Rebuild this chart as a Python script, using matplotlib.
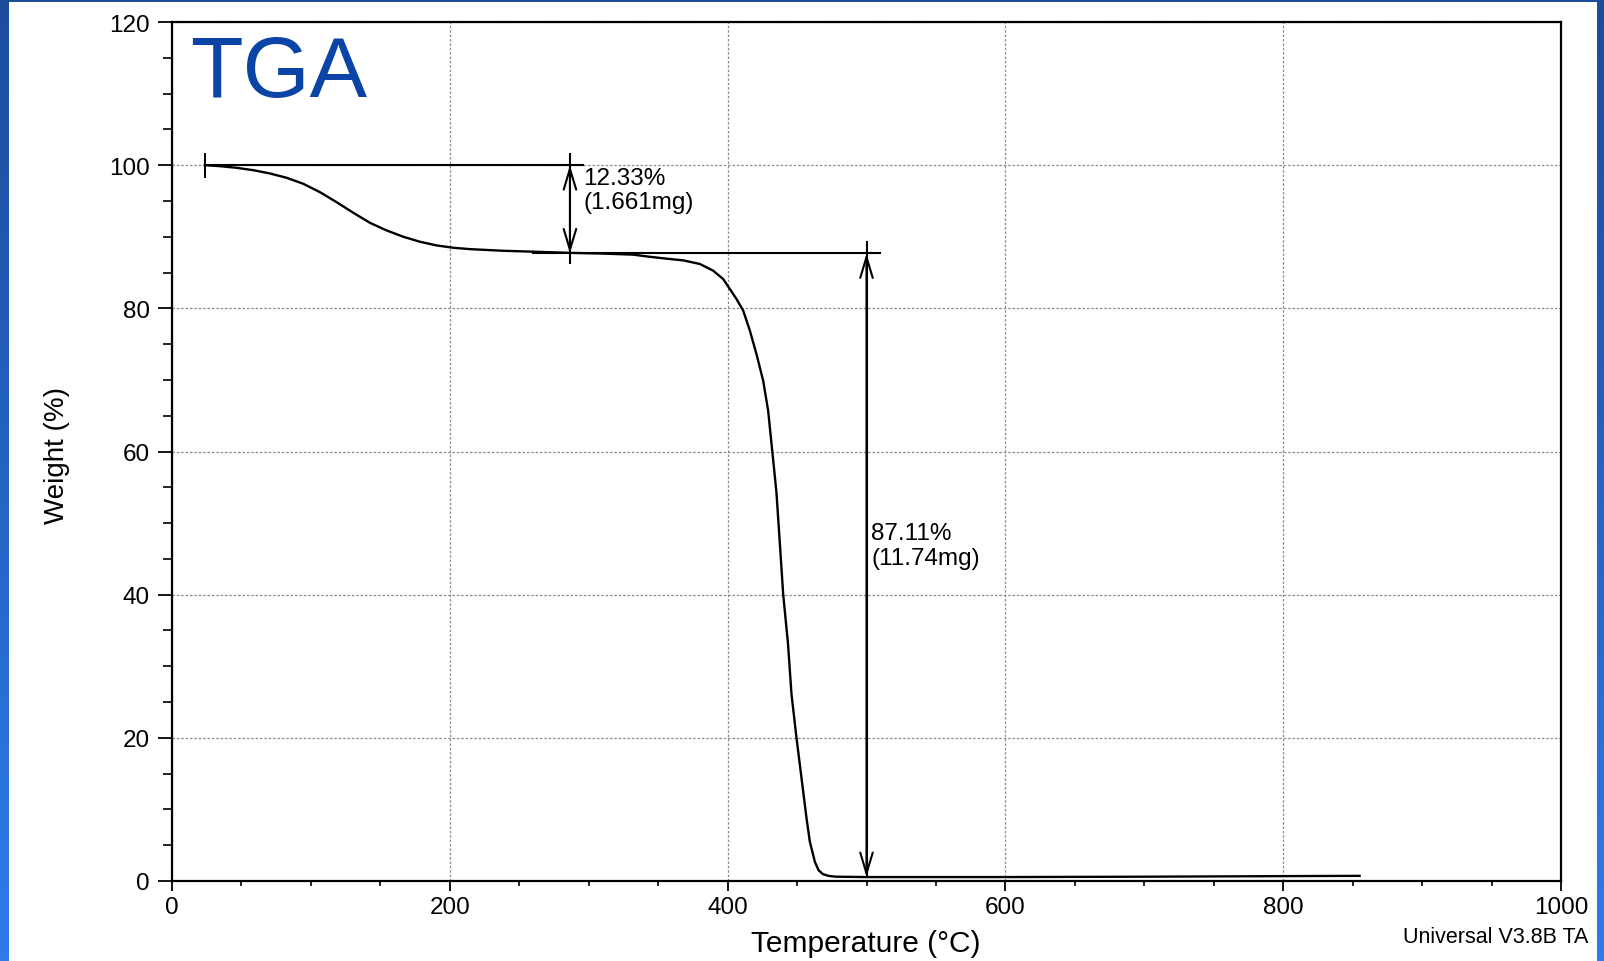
import numpy as np
import matplotlib
matplotlib.use("Agg")
import matplotlib.pyplot as plt
from matplotlib.patches import Rectangle
from matplotlib.ticker import MultipleLocator

plt.rcParams['font.family'] = ['Liberation Sans', 'DejaVu Sans']

# ---------------- data ----------------
temperature = [23.7, 34.5, 46.5, 58.5, 70.5, 82.5, 94.5, 106.5, 118.5, 130.5, 142.5,
               154.5, 166.5, 178.5, 190.5, 202.5, 214.5, 238.5, 262.5, 286.5,
               310, 332, 344, 356, 368, 380, 389.6, 396.8, 401.6, 406.4, 411.2,
               416, 420.8, 425.6, 429.2, 431.6, 433.5, 435.2, 437.6, 440, 443.5,
               446, 449.6, 453.2, 456.8, 459.2, 462.8, 465.5, 468.7, 473, 478.3,
               500, 600, 700, 800, 855]
weight = [100.0, 99.86, 99.63, 99.3, 98.84, 98.24, 97.4, 96.23, 94.83, 93.35, 91.95,
          90.88, 90.0, 89.3, 88.79, 88.46, 88.27, 88.04, 87.9, 87.75,
          87.65, 87.5, 87.2, 86.94, 86.7, 86.2, 85.26, 84.1, 82.7, 81.3, 79.7,
          76.9, 73.6, 69.9, 65.7, 61.1, 57.5, 54.2, 47.2, 40.1, 33.1,
          26.1, 20.0, 14.4, 8.8, 5.5, 2.7, 1.5, 0.95, 0.7, 0.6,
          0.55, 0.55, 0.6, 0.68, 0.72]

x_ticks = [0, 200, 400, 600, 800, 1000]
y_ticks = [0, 20, 40, 60, 80, 100, 120]

step1_label = ["12.33%", "(1.661mg)"]
step2_label = ["87.11%", "(11.74mg)"]
start_temp = 23.7
level_start = 100.0
level_mid = 87.67
level_end = 0.55
arrow1_x = 286.5
arrow2_x = 500.0

# ---------------- figure ----------------
W, H = 1604, 962
fig = plt.figure(figsize=(W / 100, H / 100), dpi=100)

# blue slide frame
bg = fig.add_axes([0, 0, 1, 1], zorder=-10)
top_c = np.array([0x1c, 0x4c, 0x9c]) / 255
bot_c = np.array([0x2e, 0x7c, 0xea]) / 255
t = np.linspace(0, 1, 256)[:, None]
grad = (top_c[None, :] * (1 - t) + bot_c[None, :] * t)[:, None, :]
grad = np.repeat(grad, 2, axis=1)
bg.imshow(grad, aspect='auto', extent=[0, 1, 0, 1])
bg.add_patch(Rectangle((9 / W, 0), (1597 - 9) / W, 1 - 3 / H,
                       facecolor='white', edgecolor='none', transform=bg.transAxes))
bg.set_xlim(0, 1); bg.set_ylim(0, 1)
bg.axis('off')

ax = fig.add_axes([172 / W, 1 - 882 / H, (1561 - 172) / W, (882 - 23) / H])
ax.set_facecolor('white')
ax.set_xlim(0, 1000)
ax.set_ylim(0, 120)
ax.set_xticks(x_ticks)
ax.set_yticks(y_ticks)
ax.xaxis.set_minor_locator(MultipleLocator(50))
ax.yaxis.set_minor_locator(MultipleLocator(5))
ax.tick_params(axis='y', which='major', direction='out', length=10, width=1.3,
               labelsize=17.5, pad=6)
ax.tick_params(axis='y', which='minor', direction='out', length=6.5, width=1.2)
ax.tick_params(axis='x', which='major', direction='out', length=7, width=1.3,
               labelsize=17.5, pad=4)
ax.tick_params(axis='x', which='minor', direction='out', length=3.6, width=1.2)
for s in ax.spines.values():
    s.set_linewidth(1.6)
    s.set_color('black')

ax.grid(True, which='major', color='#8c8c8c', linestyle=(0, (2, 1.5)), linewidth=0.9)
ax.set_axisbelow(True)

# curve
ax.plot(temperature, weight, color='black', lw=1.7, zorder=3)

# step annotation lines
ax.plot([start_temp, start_temp], [98.3, 101.5], color='black', lw=1.4, zorder=3)
ax.plot([start_temp, 296], [level_start, level_start], color='black', lw=1.5, zorder=3)
ax.plot([260, 509.5], [level_mid, level_mid], color='black', lw=1.5, zorder=3)
ax.plot([arrow1_x, arrow1_x], [86.3, 101.6], color='black', lw=1.5, zorder=3)
ax.plot([arrow2_x, arrow2_x], [89.3, level_end], color='black', lw=1.5, zorder=3)

astyle = '<->,head_length=15,head_width=4.5'
ax.annotate('', xy=(arrow1_x, level_start), xytext=(arrow1_x, level_mid),
            arrowprops=dict(arrowstyle=astyle, color='black', lw=1.5,
                            shrinkA=0, shrinkB=0, mutation_scale=1), zorder=4)
ax.annotate('', xy=(arrow2_x, level_mid), xytext=(arrow2_x, level_end),
            arrowprops=dict(arrowstyle=astyle, color='black', lw=1.5,
                            shrinkA=0, shrinkB=0, mutation_scale=1), zorder=4)

ax.text(296, 97.3, step1_label[0], fontsize=17.5, va='baseline', ha='left')
ax.text(296, 94.0, step1_label[1], fontsize=17.5, va='baseline', ha='left')
ax.text(503.5, 47.8, step2_label[0], fontsize=17.5, va='baseline', ha='left')
ax.text(503.5, 44.3, step2_label[1], fontsize=17.5, va='baseline', ha='left')

# labels
fig.text(866 / W, 1 - 951.7 / H, 'Temperature (°C)', fontsize=21.5,
         ha='center', va='baseline')
fig.text(57 / W, 1 - 455 / H, 'Weight (%)', fontsize=20, rotation=90,
         ha='center', va='center')
fig.text(1588 / W, 1 - 943 / H, 'Universal V3.8B TA', fontsize=15.5,
         ha='right', va='baseline')
fig.text(190 / W, 1 - 96.7 / H, 'TGA', fontsize=62, color='#0a44a6',
         ha='left', va='baseline')

fig.savefig('out.png', dpi=100)
